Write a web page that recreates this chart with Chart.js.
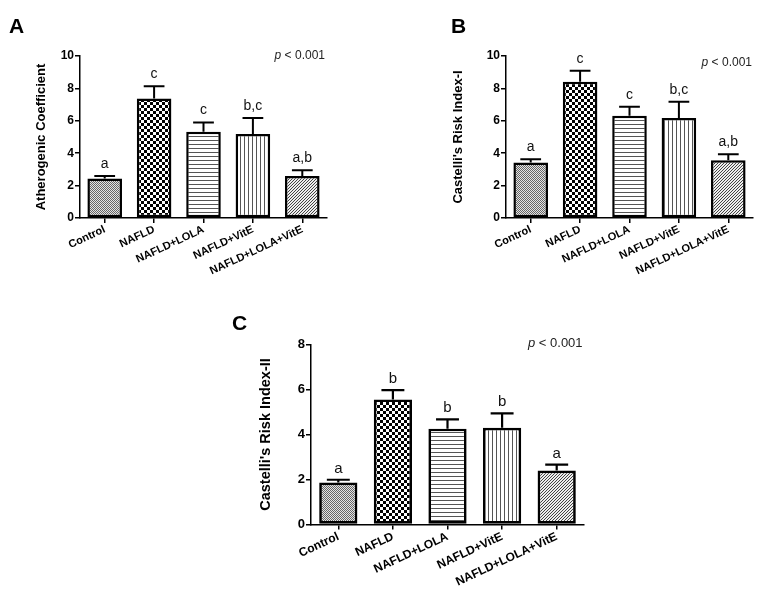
<!DOCTYPE html>
<html><head><meta charset="utf-8">
<script src="https://cdn.jsdelivr.net/npm/chart.js@4"></script>
<style>
html,body{margin:0;padding:0;background:#fff;}
#wrap{position:relative;width:759px;height:599px;overflow:hidden;font-family:"Liberation Sans",Arial,sans-serif;background:#fff;}
canvas{position:absolute;}
.pl{position:absolute;font-weight:bold;font-size:21px;line-height:21px;color:#000;}
.pv{position:absolute;font-size:12px;line-height:12px;color:#222;white-space:nowrap;text-align:right;}
</style></head>
<body><div id="wrap">
<canvas id="cA" style="left:0;top:0" width="380" height="300"></canvas>
<canvas id="cB" style="left:380px;top:0" width="379" height="300"></canvas>
<canvas id="cC" style="left:200px;top:300px" width="400" height="299"></canvas>
<div class="pl" style="left:9px;top:15px">A</div>
<div class="pl" style="left:451px;top:15px">B</div>
<div class="pl" style="left:232px;top:312px">C</div>
<div class="pv" style="right:434px;top:49px"><i>p</i> &lt; 0.001</div>
<div class="pv" style="right:7px;top:56px"><i>p</i> &lt; 0.001</div>
<div class="pv" style="left:528px;top:336px;font-size:13px;line-height:13px"><i>p</i> &lt; 0.001</div>
</div>
<script>
const categories = ['Control','NAFLD','NAFLD+LOLA','NAFLD+VitE','NAFLD+LOLA+VitE'];
const yTicksAB = [0,2,4,6,8,10];
const yTicksC = [0,2,4,6,8];

const atherogenicMean = [2.44, 7.38, 5.32, 5.18, 2.60];
const atherogenicSem  = [0.16, 0.76, 0.58, 1.00, 0.35];
const atherogenicLetters = ['a','c','c','b,c','a,b'];

const castelli1Mean = [3.43, 8.41, 6.31, 6.18, 3.57];
const castelli1Sem  = [0.20, 0.68, 0.55, 0.99, 0.37];
const castelli1Letters = ['a','c','c','b,c','a,b'];

const castelli2Mean = [1.87, 5.56, 4.26, 4.30, 2.40];
const castelli2Sem  = [0.12, 0.41, 0.41, 0.64, 0.26];
const castelli2Letters = ['a','b','b','b','a'];

function tile(w,h,draw){
  const c=document.createElement('canvas'); c.width=w; c.height=h;
  const x=c.getContext('2d'); draw(x); return x.createPattern(c,'repeat');
}
function patterns(){
  return [
    tile(2,2,x=>{x.fillStyle='#e4e4e4';x.fillRect(0,0,2,2);x.fillStyle='#666';x.fillRect(0,0,1,1);x.fillRect(1,1,1,1);}),
    tile(6,6,x=>{x.fillStyle='#fff';x.fillRect(0,0,6,6);x.fillStyle='#000';x.fillRect(0,0,3,3);x.fillRect(3,3,3,3);}),
    tile(4,4,x=>{x.fillStyle='#fff';x.fillRect(0,0,4,4);x.fillStyle='#555';x.fillRect(0,0,4,1);}),
    tile(4,4,x=>{x.fillStyle='#fff';x.fillRect(0,0,4,4);x.fillStyle='#555';x.fillRect(0,0,1,4);}),
    tile(3,3,x=>{x.fillStyle='#eee';x.fillRect(0,0,3,3);x.fillStyle='#444';x.fillRect(2,0,1,1);x.fillRect(1,1,1,1);x.fillRect(0,2,1,1);})
  ];
}

const errPlugin = {
  id:'err',
  afterDatasetsDraw(chart, args, opts){
    const ctx=chart.ctx, meta=chart.getDatasetMeta(0), ys=chart.scales.y;
    const ds=chart.data.datasets[0];
    ctx.save();
    meta.data.forEach((bar,i)=>{
      const top=ys.getPixelForValue(ds.data[i]+opts.sem[i]);
      const x=bar.x, hw=bar.width*opts.cap;
      ctx.strokeStyle='#000'; ctx.lineWidth=opts.lw; ctx.lineCap='butt';
      ctx.beginPath(); ctx.moveTo(x,bar.y); ctx.lineTo(x,top);
      ctx.moveTo(x-hw,top); ctx.lineTo(x+hw,top); ctx.stroke();
      ctx.fillStyle='#111'; ctx.font=opts.font; ctx.textAlign='center'; ctx.textBaseline='alphabetic';
      ctx.fillText(opts.letters[i], x, top-opts.gap);
    });
    ctx.restore();
  }
};

function makeChart(id, mean, sem, letters, title, yMax, ticks, L){
  new Chart(document.getElementById(id), {
    type:'bar',
    data:{labels:categories, datasets:[{data:mean, backgroundColor:patterns(), borderColor:'#000', borderWidth:L.bw, borderSkipped:false, barPercentage:0.70, categoryPercentage:1}]},
    options:{
      responsive:false, animation:false, events:[],
      layout:{padding:{left:L.pl, top:L.pt, right:L.pr, bottom:0}},
      plugins:{legend:{display:false}, tooltip:{enabled:false},
        err:{sem:sem, letters:letters, cap:0.3, lw:L.elw, gap:L.gap, font:L.lfont}},
      scales:{
        x:{grid:{display:true, drawOnChartArea:false, offset:false, color:'#000', lineWidth:1.5, tickLength:5},
           border:{display:true, color:'#000', width:1.5},
           ticks:{color:'#000', font:{family:'Liberation Sans', weight:'bold', size:L.xf}, minRotation:25, maxRotation:25, padding:0, autoSkip:false},
           afterFit:s=>{s.height=L.xh;}},
        y:{min:0, max:yMax, afterBuildTicks:s=>{s.ticks=ticks.map(v=>({value:v}));},
           grid:{display:true, drawOnChartArea:false, color:'#000', lineWidth:1.5, tickLength:5},
           border:{display:true, color:'#000', width:1.5},
           ticks:{color:'#000', font:{family:'Liberation Sans', weight:'bold', size:L.yf}, padding:1},
           title:{display:true, text:title, color:'#000', font:{family:'Liberation Sans', weight:'bold', size:L.tf}, padding:{top:0,bottom:0}},
           afterFit:s=>{s.width=L.yw;}}
      }
    },
    plugins:[errPlugin]
  });
}

makeChart('cA', atherogenicMean, atherogenicSem, atherogenicLetters, 'Atherogenic Coefficient', 10, yTicksAB,
  {pl:34, yw:46, pt:56, pr:53, xh:82, bw:2.5, elw:2, gap:8, lfont:'14px "Liberation Sans"', xf:11, yf:12, tf:13});
makeChart('cB', castelli1Mean, castelli1Sem, castelli1Letters, "Castelli's Risk Index-I", 10, yTicksAB,
  {pl:71, yw:55, pt:56, pr:6, xh:82, bw:2.5, elw:2, gap:8, lfont:'14px "Liberation Sans"', xf:11, yf:12, tf:13});
makeChart('cC', castelli2Mean, castelli2Sem, castelli2Letters, "Castelli's Risk Index-II", 8, yTicksC,
  {pl:57, yw:54, pt:44.5, pr:16, xh:74.5, bw:2.7, elw:2.2, gap:7, lfont:'15px "Liberation Sans"', xf:12, yf:13, tf:14.5});
</script>
</body></html>
